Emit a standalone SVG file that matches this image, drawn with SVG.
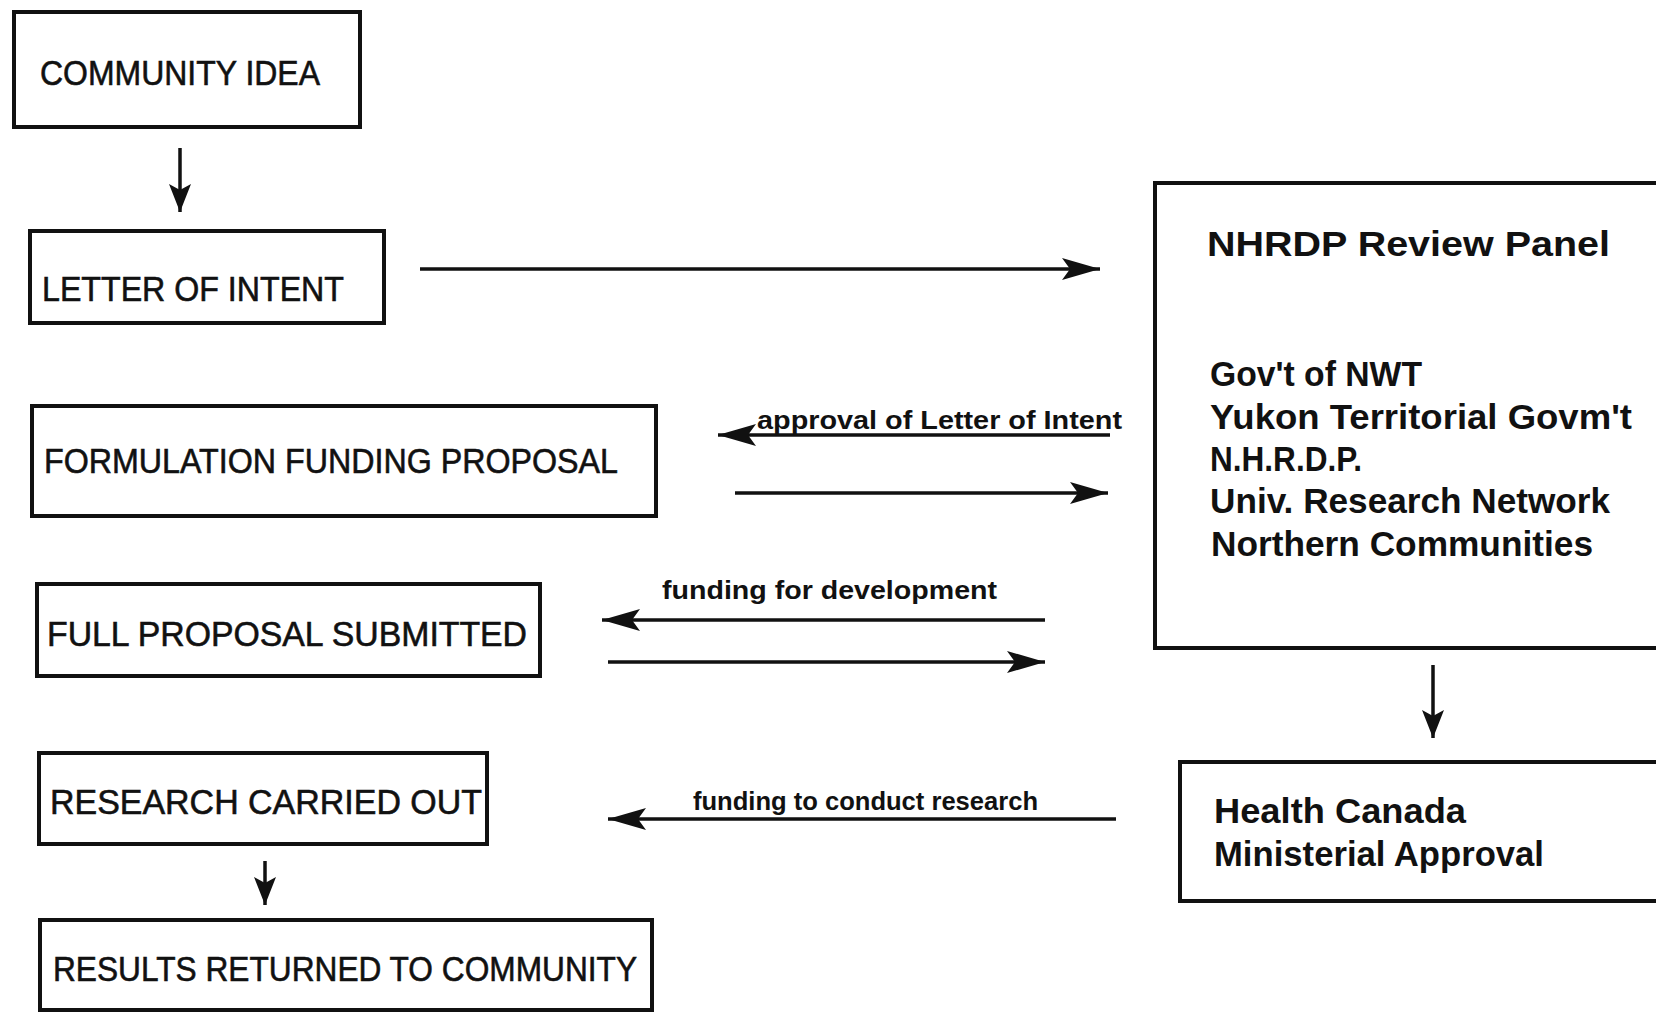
<svg xmlns="http://www.w3.org/2000/svg" width="1656" height="1013" viewBox="0 0 1656 1013">
<defs>
<style>
.box{fill:none;stroke:#111;stroke-width:4}
.bt{font-family:"Liberation Sans",Arial,sans-serif;font-size:35px;fill:#111;stroke:#111;stroke-width:0.6}
.rt{font-family:"Liberation Sans",Arial,sans-serif;font-weight:bold;font-size:35px;fill:#111}
.lb{font-family:"Liberation Sans",Arial,sans-serif;font-weight:bold;font-size:25px;fill:#111}
.ln{stroke:#111;stroke-width:3.5;fill:none}
</style>
<marker id="ah" markerUnits="userSpaceOnUse" markerWidth="40" markerHeight="26" refX="38" refY="12" orient="auto" overflow="visible">
<path d="M0,1 L38,12 L0,23 L8,12 Z" fill="#111"/>
</marker>
<marker id="av" markerUnits="userSpaceOnUse" markerWidth="30" markerHeight="24" refX="28" refY="11" orient="auto" overflow="visible">
<path d="M0,0 L28,11 L0,22 L6,11 Z" fill="#111"/>
</marker>
</defs>
<rect width="1656" height="1013" fill="#fff"/>
<g id="community-idea">
<rect class="box" x="14" y="12" width="346" height="115"/>
<text class="bt" x="40" y="85" textLength="280" lengthAdjust="spacingAndGlyphs">COMMUNITY IDEA</text>
</g>
<g id="letter-of-intent">
<rect class="box" x="30" y="231" width="354" height="92"/>
<text class="bt" x="42" y="301" textLength="302" lengthAdjust="spacingAndGlyphs">LETTER OF INTENT</text>
</g>
<g id="formulation">
<rect class="box" x="32" y="406" width="624" height="110"/>
<text class="bt" x="44" y="473" textLength="574" lengthAdjust="spacingAndGlyphs">FORMULATION FUNDING PROPOSAL</text>
</g>
<g id="full-proposal">
<rect class="box" x="37" y="584" width="503" height="92"/>
<text class="bt" x="47" y="646" textLength="480" lengthAdjust="spacingAndGlyphs">FULL PROPOSAL SUBMITTED</text>
</g>
<g id="research">
<rect class="box" x="39" y="753" width="448" height="91"/>
<text class="bt" x="50" y="814" textLength="432" lengthAdjust="spacingAndGlyphs">RESEARCH CARRIED OUT</text>
</g>
<g id="results">
<rect class="box" x="40" y="920" width="612" height="90"/>
<text class="bt" x="53" y="981" textLength="584" lengthAdjust="spacingAndGlyphs">RESULTS RETURNED TO COMMUNITY</text>
</g>
<g id="review-panel">
<rect class="box" x="1155" y="183" width="520" height="465"/>
<text class="rt" x="1207" y="256" font-size="37" textLength="403" lengthAdjust="spacingAndGlyphs">NHRDP Review Panel</text>
<text class="rt" x="1210" y="386" textLength="212" lengthAdjust="spacingAndGlyphs">Gov't of NWT</text>
<text class="rt" x="1210" y="429" textLength="422" lengthAdjust="spacingAndGlyphs">Yukon  Territorial  Govm't</text>
<text class="rt" x="1210" y="471" textLength="152" lengthAdjust="spacingAndGlyphs">N.H.R.D.P.</text>
<text class="rt" x="1210" y="513" textLength="400" lengthAdjust="spacingAndGlyphs">Univ.  Research  Network</text>
<text class="rt" x="1211" y="556" textLength="382" lengthAdjust="spacingAndGlyphs">Northern  Communities</text>
</g>
<g id="health-canada">
<rect class="box" x="1180" y="762" width="500" height="139"/>
<text class="rt" x="1214" y="823" font-size="37" textLength="252" lengthAdjust="spacingAndGlyphs">Health Canada</text>
<text class="rt" x="1214" y="866" font-size="37" textLength="330" lengthAdjust="spacingAndGlyphs">Ministerial Approval</text>
</g>
<g id="connectors">
<line class="ln" x1="180" y1="148" x2="180" y2="212" marker-end="url(#av)"/>
<line class="ln" x1="420" y1="269" x2="1100" y2="269" marker-end="url(#ah)"/>
<line class="ln" x1="1110" y1="435" x2="718" y2="435" marker-end="url(#ah)"/>
<text class="lb" x="757" y="429" textLength="365" lengthAdjust="spacingAndGlyphs">approval of Letter of Intent</text>
<line class="ln" x1="735" y1="493" x2="1108" y2="493" marker-end="url(#ah)"/>
<line class="ln" x1="1045" y1="620" x2="602" y2="620" marker-end="url(#ah)"/>
<text class="lb" x="662" y="599" textLength="335" lengthAdjust="spacingAndGlyphs">funding  for  development</text>
<line class="ln" x1="608" y1="662" x2="1045" y2="662" marker-end="url(#ah)"/>
<line class="ln" x1="1433" y1="665" x2="1433" y2="738" marker-end="url(#av)"/>
<line class="ln" x1="1116" y1="819" x2="608" y2="819" marker-end="url(#ah)"/>
<text class="lb" x="693" y="810" textLength="345" lengthAdjust="spacingAndGlyphs">funding to conduct research</text>
<line class="ln" x1="265" y1="861" x2="265" y2="905" marker-end="url(#av)"/>
</g>
</svg>
